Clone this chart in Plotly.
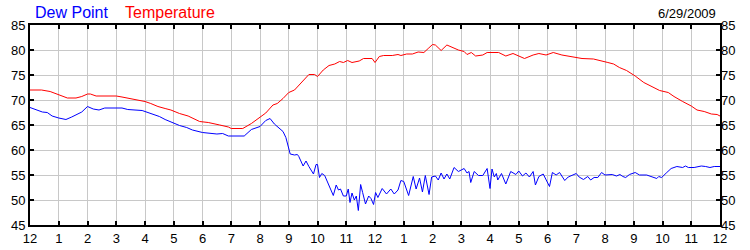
import plotly.graph_objects as go

# Temperature readings (hour of day, deg F)
temp_hours = [0.0, 0.4, 0.7, 1.0, 1.3, 1.6, 1.8, 2.0, 2.1, 2.3, 3.0, 3.2, 3.5, 3.8, 4.0, 4.2, 4.45, 4.7, 4.9,
              5.2, 5.5, 5.9, 6.2, 6.6, 6.9, 7.0, 7.4, 7.7, 8.0, 8.2, 8.45, 8.6, 8.8, 9.0, 9.2, 9.4, 9.7, 9.9,
              10.0, 10.2, 10.4, 10.6, 10.77, 10.9, 11.05, 11.2, 11.45, 11.6, 11.9, 12.0, 12.15, 12.3, 12.6,
              12.8, 12.9, 13.1, 13.3, 13.5, 13.7, 13.85, 14.0, 14.1, 14.3, 14.5, 14.7, 14.9, 15.1, 15.2,
              15.35, 15.5, 15.75, 15.9, 16.3, 16.55, 16.8, 17.2, 17.5, 17.7, 17.95, 18.2, 18.5, 19.0, 19.2,
              19.6, 19.85, 20.1, 20.3, 20.5, 20.75, 21.05, 21.35, 21.65, 21.9, 22.2, 22.4, 22.7, 23.0, 23.2,
              23.45, 23.7, 23.9, 24.0]
temp_values = [72.0, 72.0, 71.7, 71.1, 70.4, 70.4, 70.7, 71.2, 71.2, 70.8, 70.8, 70.6, 70.3, 70.0, 69.7, 69.3,
               68.7, 68.3, 68.0, 67.3, 66.8, 65.7, 65.5, 65.0, 64.6, 64.3, 64.3, 65.3, 66.5, 67.4, 69.0, 69.3,
               70.3, 71.5, 72.0, 73.3, 75.1, 75.1, 74.7, 76.0, 76.9, 77.2, 77.7, 77.5, 77.9, 77.5, 77.8, 78.3,
               78.3, 77.5, 78.7, 78.9, 78.9, 79.1, 78.9, 79.2, 79.2, 79.6, 79.5, 80.3, 81.1, 81.0, 79.9, 81.0,
               80.5, 80.0, 79.7, 79.1, 79.5, 78.8, 79.0, 79.5, 79.5, 78.8, 79.3, 78.3, 79.0, 79.3, 79.0, 79.5,
               79.0, 78.5, 78.3, 78.2, 77.9, 77.5, 77.2, 76.5, 75.9, 74.8, 73.5, 72.7, 71.9, 71.5, 70.7, 69.7,
               68.8, 68.0, 67.7, 67.2, 67.1, 66.8]

# Dew point readings (hour of day, deg F)
dew_hours = [0.0, 0.2, 0.43, 0.6, 0.77, 1.0, 1.25, 1.45, 1.6, 1.8, 2.0, 2.2, 2.4, 2.6, 3.2, 3.4, 3.9, 4.26,
             4.5, 4.7, 5.0, 5.2, 5.45, 5.65, 6.0, 6.5, 6.7, 6.9, 7.45, 7.7, 8.0, 8.2, 8.35, 8.5, 8.8, 8.9,
             9.05, 9.2, 9.3, 9.35, 9.5, 9.6, 9.7, 9.86, 9.95, 10.0, 10.07, 10.15, 10.25, 10.4, 10.55, 10.65,
             10.73, 10.8, 10.9, 11.0, 11.07, 11.13, 11.2, 11.28, 11.35, 11.42, 11.5, 11.57, 11.67, 11.78,
             11.86, 11.95, 12.02, 12.1, 12.25, 12.4, 12.55, 12.67, 12.8, 12.9, 13.0, 13.17, 13.33, 13.43,
             13.55, 13.65, 13.75, 13.88, 13.97, 14.1, 14.2, 14.3, 14.4, 14.5, 14.6, 14.75, 14.9, 15.1, 15.2,
             15.27, 15.33, 15.45, 15.6, 15.75, 15.9, 16.0, 16.07, 16.15, 16.22, 16.27, 16.4, 16.55, 16.72,
             16.9, 17.0, 17.13, 17.25, 17.37, 17.5, 17.58, 17.7, 17.85, 18.07, 18.17, 18.3, 18.42, 18.6,
             18.72, 18.85, 19.0, 19.1, 19.25, 19.4, 19.5, 19.62, 19.75, 19.88, 20.0, 20.25, 20.4, 20.52,
             20.62, 20.72, 20.85, 21.05, 21.2, 21.45, 21.62, 21.8, 21.87, 21.97, 22.15, 22.3, 22.5, 22.7,
             22.8, 22.9, 23.1, 23.35, 23.5, 23.65, 23.8, 24.0]
dew_values = [68.5, 68.1, 67.6, 67.5, 66.8, 66.4, 66.1, 66.6, 67.0, 67.6, 68.7, 68.2, 68.0, 68.4, 68.4, 68.1,
              67.9, 67.2, 66.7, 66.1, 65.4, 64.9, 64.5, 64.0, 63.5, 63.2, 63.3, 62.8, 62.8, 64.1, 64.7, 65.9,
              66.3, 65.2, 63.7, 62.5, 59.2, 59.0, 59.1, 58.7, 56.8, 57.8, 56.7, 55.2, 57.1, 57.1, 54.5, 55.3,
              54.9, 53.0, 50.9, 53.0, 52.0, 52.2, 50.8, 50.8, 52.2, 49.5, 51.4, 50.0, 50.8, 47.9, 53.1, 51.5,
              49.2, 50.8, 50.3, 49.1, 51.5, 50.5, 52.3, 51.2, 52.2, 51.2, 52.0, 53.9, 53.7, 50.9, 54.7, 52.2,
              54.4, 51.6, 54.9, 51.1, 54.6, 54.8, 54.0, 55.4, 54.2, 55.2, 54.2, 56.5, 55.7, 56.3, 55.4, 55.7,
              53.5, 55.7, 54.9, 54.9, 56.3, 52.3, 56.2, 54.6, 55.3, 54.0, 55.3, 53.2, 55.7, 55.1, 55.8, 54.8,
              55.4, 54.6, 55.7, 53.0, 54.7, 55.2, 52.7, 55.5, 55.0, 55.5, 53.9, 54.6, 55.0, 55.3, 54.6, 54.1,
              54.7, 54.0, 54.5, 54.5, 55.5, 55.0, 55.1, 54.8, 55.1, 54.7, 54.5, 55.1, 55.5, 55.0, 55.0, 54.7,
              54.3, 54.7, 54.5, 55.5, 56.3, 56.7, 56.5, 56.8, 56.5, 56.5, 56.8, 56.7, 56.5, 56.7, 56.7]

x_tickvals = list(range(0, 25))
x_ticktext = ["12", "1", "2", "3", "4", "5", "6", "7", "8", "9", "10", "11",
              "12", "1", "2", "3", "4", "5", "6", "7", "8", "9", "10", "11", "12"]
y_tickvals = [45, 50, 55, 60, 65, 70, 75, 80, 85]
y_range = [45, 85]
chart_date = "6/29/2009"
series_names = ["Dew Point", "Temperature"]
series_colors = ["#0000FF", "#FF0000"]

FONT = "Liberation Sans, Arial, sans-serif"

fig = go.Figure()
fig.add_trace(go.Scatter(x=dew_hours, y=dew_values, mode="lines", name=series_names[0],
                         line=dict(color=series_colors[0], width=1), showlegend=False))
fig.add_trace(go.Scatter(x=temp_hours, y=temp_values, mode="lines", name=series_names[1],
                         line=dict(color=series_colors[1], width=1), showlegend=False))
# invisible trace to carry the right-hand axis
fig.add_trace(go.Scatter(x=temp_hours, y=temp_values, mode="lines", yaxis="y2",
                         line=dict(width=0), opacity=0, showlegend=False, hoverinfo="skip"))

axis_common = dict(showline=True, linecolor="black", linewidth=2, ticks="inside", ticklen=4,
                   tickwidth=2, tickcolor="black", showgrid=True, gridcolor="#C8C8C8", gridwidth=1,
                   zeroline=False, automargin=False,
                   tickfont=dict(family=FONT, size=13, color="black"))

fig.update_layout(
    width=750, height=250,
    margin=dict(l=30, r=30, t=25, b=25, autoexpand=False),
    paper_bgcolor="white", plot_bgcolor="white",
    xaxis=dict(range=[0, 24], tickmode="array", tickvals=x_tickvals, ticktext=x_ticktext,
               mirror="ticks", **axis_common),
    yaxis=dict(range=y_range, tickmode="array", tickvals=y_tickvals, mirror="ticks", **axis_common),
    yaxis2=dict(range=y_range, tickmode="array", tickvals=y_tickvals, overlaying="y", side="right",
                showline=False, ticks="", showgrid=False, zeroline=False, automargin=False,
                tickfont=dict(family=FONT, size=13, color="black")),
    annotations=[
        dict(text=series_names[0], xref="paper", yref="paper", x=0.004, y=1, xanchor="left",
             yanchor="middle", yshift=13, showarrow=False,
             font=dict(family=FONT, size=16, color=series_colors[0])),
        dict(text=series_names[1], xref="paper", yref="paper", x=0.1346, y=1, xanchor="left",
             yanchor="middle", yshift=13, showarrow=False,
             font=dict(family=FONT, size=16, color=series_colors[1])),
        dict(text=chart_date, xref="paper", yref="paper", x=1, y=1, xanchor="right",
             yanchor="middle", yshift=12, xshift=-2, showarrow=False,
             font=dict(family=FONT, size=13, color="black")),
    ],
)

fig.write_html("out.html")
